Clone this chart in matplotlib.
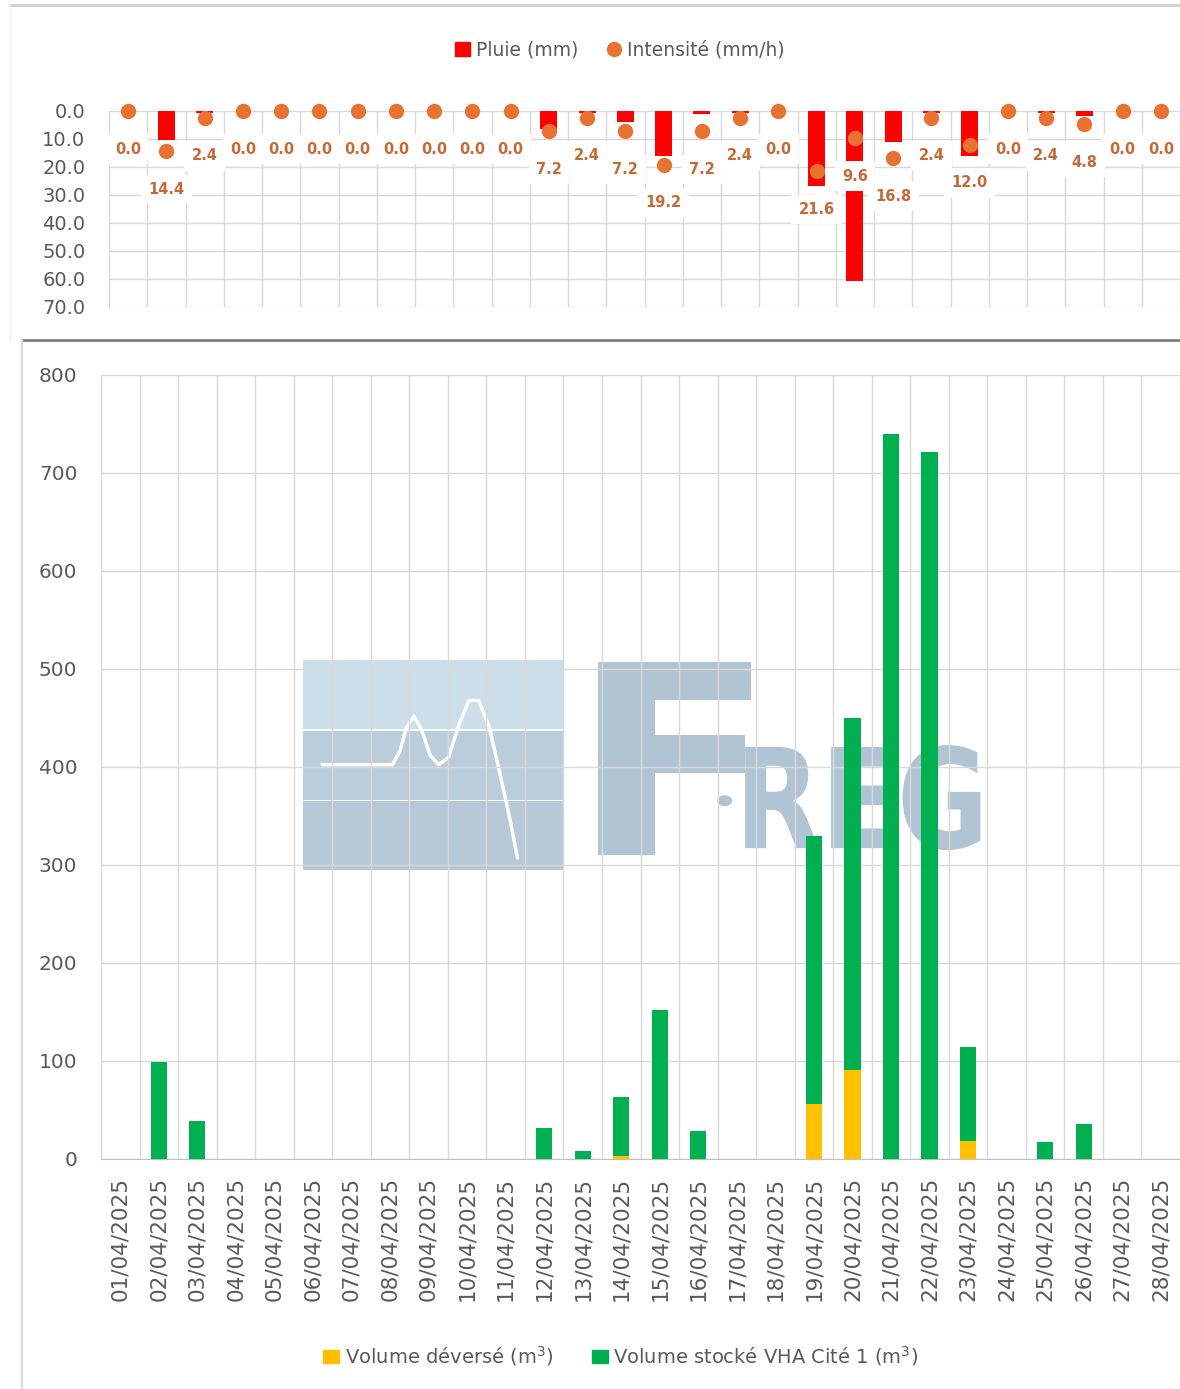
import numpy as np
import matplotlib
matplotlib.use("Agg")
import matplotlib.pyplot as plt
from matplotlib.lines import Line2D
from matplotlib.patches import Rectangle, Patch, PathPatch, Circle
from matplotlib.textpath import TextPath
from matplotlib.font_manager import FontProperties
from matplotlib.transforms import Affine2D

# ---- data ----
dates = ["01/04/2025", "02/04/2025", "03/04/2025", "04/04/2025", "05/04/2025",
         "06/04/2025", "07/04/2025", "08/04/2025", "09/04/2025", "10/04/2025",
         "11/04/2025", "12/04/2025", "13/04/2025", "14/04/2025", "15/04/2025",
         "16/04/2025", "17/04/2025", "18/04/2025", "19/04/2025", "20/04/2025",
         "21/04/2025", "22/04/2025", "23/04/2025", "24/04/2025", "25/04/2025",
         "26/04/2025", "27/04/2025", "28/04/2025"]

pluie = [0, 10.4, 0.6, 0, 0, 0, 0, 0, 0, 0, 0, 6.5, 0.6, 4.0, 16.0, 1.2, 0.6, 0,
         26.7, 60.8, 11.0, 0.6, 16.2, 0, 0.6, 1.8, 0, 0]
intensite = [0.0, 14.4, 2.4, 0.0, 0.0, 0.0, 0.0, 0.0, 0.0, 0.0, 0.0, 7.2, 2.4, 7.2,
             19.2, 7.2, 2.4, 0.0, 21.6, 9.6, 16.8, 2.4, 12.0, 0.0, 2.4, 4.8, 0.0, 0.0]

vol_deverse = [0, 0, 0, 0, 0, 0, 0, 0, 0, 0, 0, 0, 0, 3, 0, 0, 0, 0,
               56, 91, 0, 0, 18, 0, 0, 0, 0, 0]
vol_stocke = [0, 99, 39, 0, 0, 0, 0, 0, 0, 0, 0, 32, 8, 60, 152, 29, 0, 0,
              274, 359, 740, 721, 96, 0, 17, 36, 0, 0]

RED = "#FF0000"
ORANGE = "#E97132"
LABEL = "#C46A37"
YELLOW = "#FFC000"
GREEN = "#00B050"
GRID = "#D9D9D9"
TXT = "#595959"
LOGO = "#A9BECF"

plt.rcParams["font.family"] = ["DejaVu Sans"]

W, H = 1180, 1389
fig = plt.figure(figsize=(W / 100, H / 100), dpi=100)

x = np.arange(1, len(dates) + 1)

# ---- top chart: rain ----
ax1 = fig.add_axes([109 / W, 1 - 307 / H, 1 - 109 / W, (307 - 111) / H])
ax1.bar(x, pluie, width=0.45, color=RED, zorder=2)
ax1.plot(x, intensite, "o", color=ORANGE, markersize=10, zorder=3, clip_on=False)
for xi, v in zip(x, intensite):
    ax1.annotate(f"{v:.1f}", (xi, v), xytext=(0, -27.5), textcoords="offset points",
                 ha="center", va="center", fontsize=10.5, fontweight="bold",
                 color=LABEL, zorder=4,
                 bbox=dict(boxstyle="square,pad=0.5", fc="white", ec="none"))
ax1.set_ylim(70, 0)
ax1.set_xlim(0.5, len(x) + 0.5)
ax1.set_yticks(np.arange(0, 71, 10))
ax1.set_yticklabels([f"{v:.1f}" for v in range(0, 71, 10)])
ax1.set_xticks(np.arange(0.5, len(x) + 1, 1), minor=True)
ax1.set_xticks([])
ax1.grid(axis="y", color=GRID, lw=1, zorder=0)
ax1.grid(axis="x", which="minor", color=GRID, lw=1, zorder=0)
ax1.tick_params(axis="y", length=0, pad=17, labelsize=14, labelcolor=TXT)
ax1.tick_params(axis="x", which="both", length=0)
for s in ["top", "right", "bottom"]:
    ax1.spines[s].set_visible(False)
ax1.spines["left"].set_color(GRID)

leg1 = [Patch(color=RED, label="Pluie (mm)"),
        Line2D([], [], marker="o", ls="", color=ORANGE, markersize=10,
               label="Intensité (mm/h)")]
fig.legend(handles=leg1, loc="center", bbox_to_anchor=(620 / W, 1 - 50 / H),
           ncol=2, frameon=False, fontsize=13.5, labelcolor=TXT,
           handlelength=0.8, handletextpad=0.3, columnspacing=1.5)

# ---- bottom chart: volumes ----
ax2 = fig.add_axes([101 / W, 1 - 1159 / H, 1 - 101 / W, (1159 - 375) / H])
ax2.bar(x, vol_deverse, width=0.42, color=YELLOW, zorder=3)
ax2.bar(x, vol_stocke, width=0.42, bottom=vol_deverse, color=GREEN, zorder=3)
ax2.set_ylim(0, 800)
ax2.set_xlim(0.5, len(x) + 0.5)
ax2.set_yticks(np.arange(0, 801, 100))
ax2.set_xticks(x)
ax2.set_xticklabels(dates, rotation=90)
ax2.set_xticks(np.arange(0.5, len(x) + 1, 1), minor=True)
ax2.grid(axis="y", color=GRID, lw=1, zorder=0)
ax2.grid(axis="x", which="minor", color=GRID, lw=1, zorder=0)
ax2.tick_params(axis="y", length=0, pad=17, labelsize=14.5, labelcolor=TXT)
ax2.tick_params(axis="x", which="both", length=0, pad=13, labelsize=15.5, labelcolor=TXT)
for s in ["top", "right"]:
    ax2.spines[s].set_visible(False)
ax2.spines["left"].set_color(GRID)
ax2.spines["bottom"].set_color("#BFBFBF")

# watermark logo (behind bars, over grid)
wm = dict(transform=ax2.transAxes, zorder=1.5)
ax2.add_patch(Rectangle((0.187, 0.548), 0.241, 0.089, fc="#C6DBE8", ec="none", alpha=0.9, **wm))
ax2.add_patch(Rectangle((0.187, 0.458), 0.241, 0.088, fc="#B4C8D8", ec="none", alpha=0.9, **wm))
ax2.add_patch(Rectangle((0.187, 0.369), 0.241, 0.087, fc="#AFC2D3", ec="none", alpha=0.9, **wm))
cx = [0.205, 0.27, 0.277, 0.283, 0.29, 0.297, 0.305, 0.313, 0.322, 0.332, 0.341,
      0.35, 0.36, 0.37, 0.378, 0.386]
cy = [0.503, 0.503, 0.52, 0.55, 0.565, 0.548, 0.515, 0.503, 0.512, 0.555, 0.585,
      0.585, 0.55, 0.49, 0.44, 0.384]
ax2.plot(cx, cy, color="white", lw=2.5, solid_capstyle="round", **wm)


def logo_text(s, x0, y0, w, h):
    tp = TextPath((0, 0), s, size=1, prop=FontProperties(family="DejaVu Sans", weight="bold"))
    ext = tp.get_extents()
    tr = (Affine2D().translate(-ext.x0, -ext.y0)
          .scale(w / ext.width, h / ext.height).translate(x0, y0))
    ax2.add_patch(PathPatch(tr.transform_path(tp), fc=LOGO, ec="none", alpha=0.9, **wm))


logo_text("F", 0.461, 0.388, 0.141, 0.246)
logo_text("REG", 0.597, 0.394, 0.218, 0.134)
ax2.add_patch(Circle((0.578, 0.457), 0.007, fc=LOGO, ec="none", alpha=0.9, **wm))

leg2 = [Patch(color=YELLOW, label="Volume déversé (m$^3$)"),
        Patch(color=GREEN, label="Volume stocké VHA Cité 1 (m$^3$)")]
fig.legend(handles=leg2, loc="center", bbox_to_anchor=(621 / W, 1 - 1356 / H),
           ncol=2, frameon=False, fontsize=14, labelcolor=TXT,
           handlelength=0.8, handletextpad=0.3, columnspacing=2.0)

# chart frames
fig.add_artist(Line2D([10 / W, 1], [1 - 5 / H, 1 - 5 / H], color="#D0D0D0", lw=2))
fig.add_artist(Line2D([10 / W, 10 / W], [1 - 340 / H, 1 - 5 / H], color="#EEEEEE", lw=1))
fig.add_artist(Line2D([22 / W, 1], [1 - 340 / H, 1 - 340 / H], color="#808080", lw=2))
fig.add_artist(Line2D([22 / W, 22 / W], [0, 1 - 340 / H], color="#D9D9D9", lw=1.5))

fig.savefig("out.png", dpi=100, facecolor="white")
